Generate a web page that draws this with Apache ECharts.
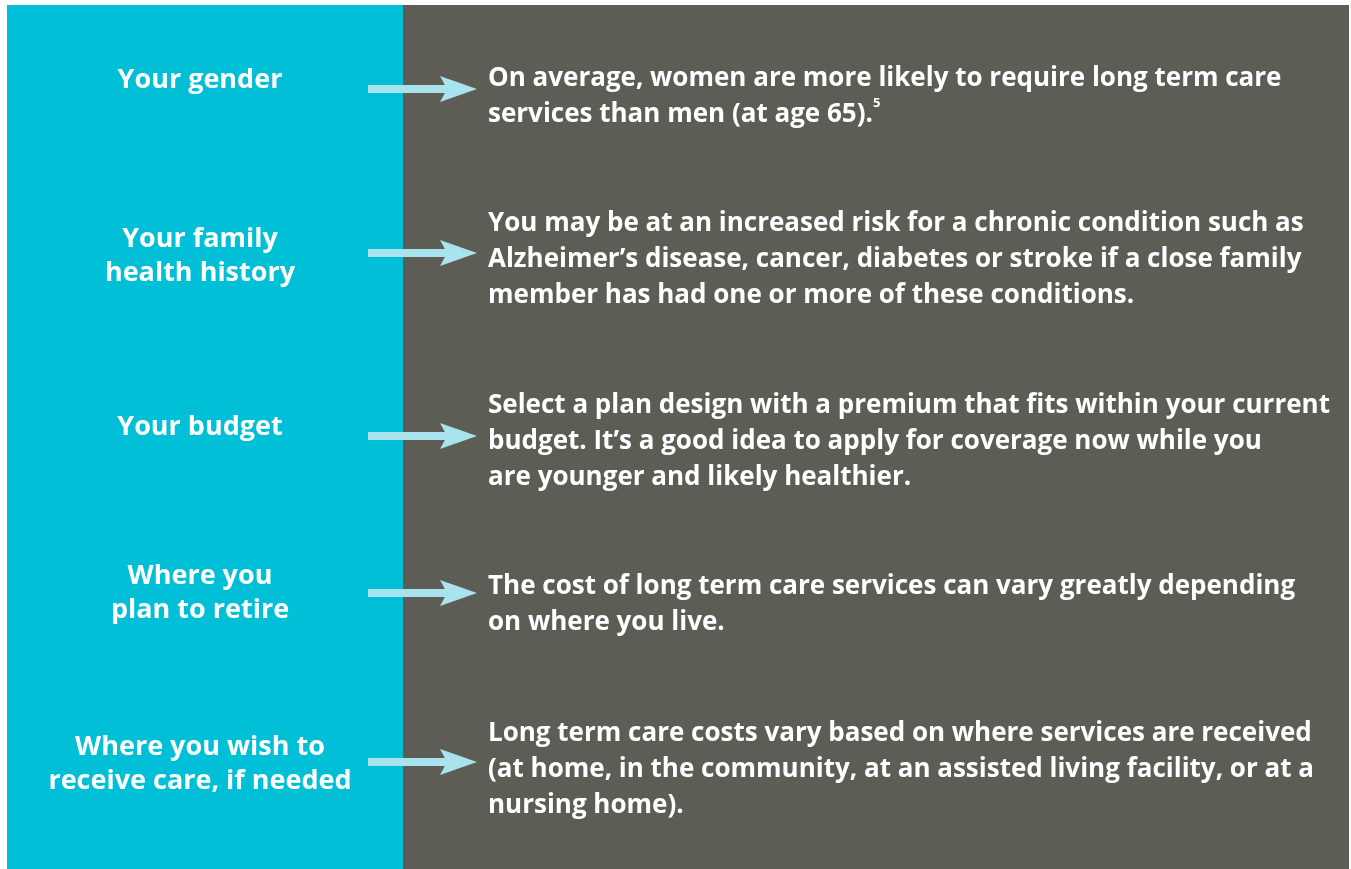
<!DOCTYPE html>
<html>
<head>
<meta charset="utf-8">
<script src="https://cdn.jsdelivr.net/npm/echarts@6/dist/echarts.min.js"></script>
<style>
  html, body { margin: 0; padding: 0; background: #fff; }
  #main { width: 1351px; height: 869px; }
</style>
</head>
<body>
<div id="main"></div>
<script>
// factors on the left, text on the right
var factors = [
  'Your gender',
  'Your family\nhealth history',
  'Your budget',
  'Where you\nplan to retire',
  'Where you wish to\nreceive care, if needed'
];
var details = [
  'On average, women are more likely to require long term care\nservices than men (at age 65).{sup|5}',
  'You may be at an increased risk for a chronic condition such as\nAlzheimer\u2019s disease, cancer, diabetes or stroke if a close family\nmember has had one or more of these conditions.',
  'Select a plan design with a premium that fits within your current\nbudget. It\u2019s a good idea to apply for coverage now while you\nare younger and likely healthier.',
  'The cost of long term care services can vary greatly depending\non where you live.',
  'Long term care costs vary based on where services are received\n(at home, in the community, at an assisted living facility, or at a\nnursing home).'
];

// layout (y centres of each row piece)
var labelY = [80, 256, 427, 593, 764];
var arrowY = [89, 253, 436, 593, 762];
var textY = [97, 260, 442, 605, 770];

var font = '"Open Sans", "DejaVu Sans", sans-serif';
var cyan = '#00bfd7';
var gray = '#5d5d55';
var arrowCol = '#a8e3ee';

var myChart = echarts.init(document.getElementById('main'));

var elements = [
  { type: 'rect', shape: { x: 7, y: 5, width: 396, height: 864 }, style: { fill: cyan } },
  { type: 'rect', shape: { x: 403, y: 5, width: 946, height: 864 }, style: { fill: gray } }
];

factors.forEach(function (f, i) {
  elements.push({
    type: 'text',
    style: {
      text: f, x: 200, y: labelY[i],
      fill: '#fff', fontFamily: font, fontWeight: 700, fontSize: 27,
      lineHeight: 34, align: 'center', verticalAlign: 'middle'
    }
  });
  var y = arrowY[i];
  elements.push({
    type: 'rect',
    shape: { x: 368, y: y - 4, width: 80, height: 8 },
    style: { fill: arrowCol }
  });
  elements.push({
    type: 'polygon',
    shape: { points: [[440, y - 13], [477, y], [440, y + 13], [447, y]] },
    style: { fill: arrowCol }
  });
  elements.push({
    type: 'text',
    style: {
      text: details[i], x: 488, y: textY[i],
      fill: '#fff', fontFamily: font, fontWeight: 700, fontSize: 26,
      lineHeight: 36, align: 'left', verticalAlign: 'middle',
      rich: {
        sup: { fontSize: 13, fontFamily: font, fontWeight: 700, fill: '#fff', verticalAlign: 'top', lineHeight: 24, padding: [0, 0, 4, 0] }
      }
    }
  });
});

myChart.setOption({
  animation: false,
  graphic: { elements: elements }
});
</script>
</body>
</html>
